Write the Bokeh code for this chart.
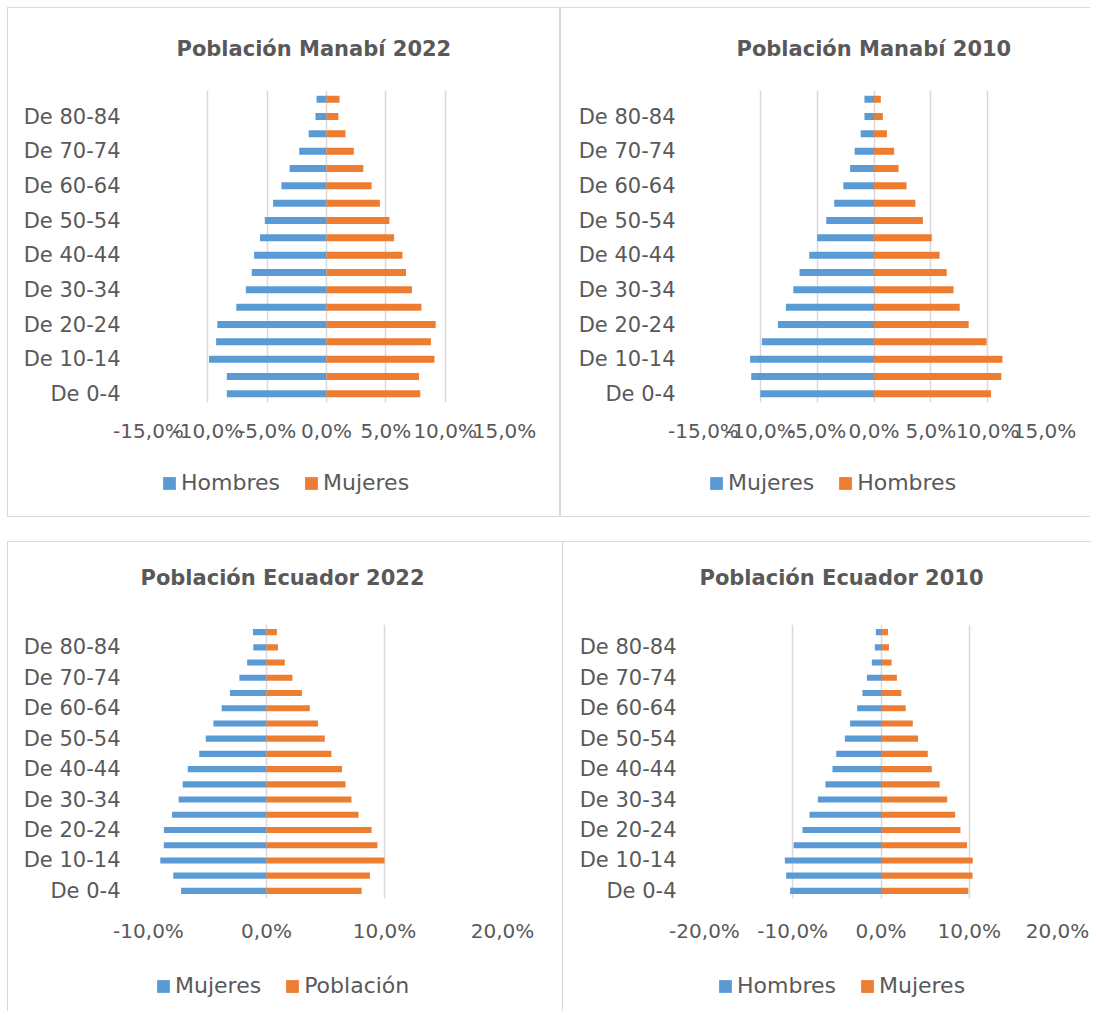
from bokeh.plotting import figure
from bokeh.models import (FactorRange, Range1d, FixedTicker, CustomJSTickFormatter,
                          Legend, LegendItem, Spacer, Title)
from bokeh.layouts import column, row
from bokeh.embed import file_html
from bokeh.resources import INLINE

# ---------------- data (percent of population) ----------------
grupos = ["De 0-4", "De 5-9", "De 10-14", "De 15-19", "De 20-24", "De 25-29",
          "De 30-34", "De 35-39", "De 40-44", "De 45-49", "De 50-54", "De 55-59",
          "De 60-64", "De 65-69", "De 70-74", "De 75-79", "De 80-84", "De 85 y más"]
etiquetas_visibles = ["De 0-4", "De 10-14", "De 20-24", "De 30-34", "De 40-44",
                      "De 50-54", "De 60-64", "De 70-74", "De 80-84"]

manabi22_hombres = [-8.4, -8.4, -9.9, -9.3, -9.2, -7.6, -6.8, -6.3, -6.1, -5.6,
                    -5.2, -4.5, -3.8, -3.1, -2.3, -1.5, -0.93, -0.84]
manabi22_mujeres = [7.9, 7.8, 9.1, 8.8, 9.2, 8.0, 7.2, 6.7, 6.4, 5.7,
                    5.3, 4.5, 3.8, 3.1, 2.3, 1.6, 1.0, 1.1]

manabi10_mujeres = [-10.0, -10.8, -10.9, -9.86, -8.45, -7.75, -7.1, -6.55, -5.7, -5.0,
                    -4.2, -3.5, -2.7, -2.1, -1.7, -1.17, -0.84, -0.84]
manabi10_hombres = [10.3, 11.2, 11.3, 9.9, 8.33, 7.54, 7.0, 6.4, 5.77, 5.08,
                    4.3, 3.64, 2.86, 2.16, 1.77, 1.14, 0.78, 0.6]

ecuador22_mujeres = [-7.24, -7.9, -9.0, -8.7, -8.7, -8.0, -7.45, -7.1, -6.67, -5.7,
                     -5.15, -4.5, -3.8, -3.1, -2.3, -1.64, -1.12, -1.15]
ecuador22_poblacion = [8.06, 8.76, 10.0, 9.4, 8.9, 7.8, 7.2, 6.7, 6.4, 5.5,
                       4.94, 4.36, 3.67, 3.0, 2.2, 1.55, 0.97, 0.88]

ecuador10_hombres = [-10.3, -10.75, -10.9, -9.9, -8.9, -8.1, -7.16, -6.3, -5.5, -5.07,
                     -4.1, -3.5, -2.7, -2.1, -1.6, -1.04, -0.7, -0.58]
ecuador10_mujeres = [9.9, 10.37, 10.4, 9.75, 9.0, 8.4, 7.5, 6.65, 5.76, 5.3,
                     4.2, 3.6, 2.8, 2.3, 1.8, 1.2, 0.9, 0.8]

ticks_15 = [-15, -10, -5, 0, 5, 10, 15]
ticks_10_20 = [-10, 0, 10, 20]
ticks_20 = [-20, -10, 0, 10, 20]

AZUL = "#5B9BD5"
NARANJA = "#ED7D31"
TEXTO = "#595959"
GRIS = "#D9D9D9"
FONT = "DejaVu Sans"


def bordes_css(bordes):
    return {"border-" + b: "1px solid " + GRIS for b in bordes}


def panel(titulo, izq_vals, der_vals, xr, ticks,
          width, height, mbl, fw, mbt, fh, title_offset, title_gap,
          xlab_standoff, bordes):
    p = figure(width=width, height=height, title=None,
               y_range=FactorRange(factors=grupos, range_padding=0),
               x_range=Range1d(*xr),
               output_backend="svg", toolbar_location=None, tools="")
    p.min_border_left = mbl
    p.min_border_right = width - mbl - fw
    p.min_border_top = mbt
    p.min_border_bottom = height - mbt - fh

    p.hbar(y=grupos, left=izq_vals, right=0, height=0.4,
           fill_color=AZUL, line_color=None)
    p.hbar(y=grupos, left=0, right=der_vals, height=0.4,
           fill_color=NARANJA, line_color=None)

    # empty title used as a gap between the frame and the real title
    p.add_layout(Title(text=" ", text_font_size="1px", standoff=title_gap), "above")
    p.add_layout(Title(text=titulo, align="left", offset=title_offset, standoff=0,
                       text_font=FONT, text_font_size="21px", text_font_style="bold",
                       text_color=TEXTO), "above")

    p.xaxis.ticker = FixedTicker(ticks=ticks)
    p.xaxis.formatter = CustomJSTickFormatter(
        code="return tick.toFixed(1).replace('.', ',') + '%';")
    p.xaxis.axis_line_color = None
    p.xaxis.major_tick_line_color = None
    p.xaxis.minor_tick_line_color = None
    p.xaxis.major_label_standoff = xlab_standoff
    p.xaxis.major_label_text_font = FONT
    p.xaxis.major_label_text_font_size = "20px"
    p.xaxis.major_label_text_color = TEXTO

    p.yaxis.formatter = CustomJSTickFormatter(
        args=dict(vis=etiquetas_visibles),
        code="return vis.includes(tick) ? tick : '';")
    p.yaxis.axis_line_color = None
    p.yaxis.major_tick_line_color = None
    p.yaxis.minor_tick_line_color = None
    p.yaxis.major_label_standoff = 22
    p.yaxis.major_label_text_font = FONT
    p.yaxis.major_label_text_font_size = "21px"
    p.yaxis.major_label_text_color = TEXTO

    p.xgrid.grid_line_color = GRIS
    p.xgrid.grid_line_width = 1.5
    p.ygrid.grid_line_color = None
    p.outline_line_color = None
    p.styles = bordes_css(bordes)
    return p


def leyenda(nombre_azul, nombre_naranja, width, height, x, y, bordes):
    q = figure(width=width, height=height, x_range=Range1d(0, 1), y_range=Range1d(0, 1),
               x_axis_location=None, y_axis_location=None,
               output_backend="svg", toolbar_location=None, tools="", min_border=0)
    q.grid.visible = False
    q.outline_line_color = None
    # zero-size placeholder glyphs, only used for the legend swatches
    ra = q.hbar(y=[0], left=[0], right=[0], height=0, fill_color=AZUL, line_color=None)
    rn = q.hbar(y=[0], left=[0], right=[0], height=0, fill_color=NARANJA, line_color=None)
    leg = Legend(items=[LegendItem(label=nombre_azul, renderers=[ra]),
                        LegendItem(label=nombre_naranja, renderers=[rn])],
                 orientation="horizontal", location=(x, y),
                 background_fill_alpha=0, border_line_color=None,
                 padding=0, margin=0, spacing=23,
                 glyph_width=16, glyph_height=16, label_standoff=4,
                 label_text_font=FONT, label_text_font_size="22px",
                 label_text_color=TEXTO, label_height=22)
    q.add_layout(leg)
    q.styles = bordes_css(bordes)
    return q


p1 = panel("Población Manabí 2022", manabi22_hombres, manabi22_mujeres,
           (-15, 15), ticks_15, 553, 452, 140, 356, 82, 312, 28, 27, 10,
           ["top", "left", "right"])
l1 = leyenda("Hombres", "Mujeres", 553, 58, 13, 22, ["left", "right", "bottom"])

p2 = panel("Población Manabí 2010", manabi10_mujeres, manabi10_hombres,
           (-15, 15), ticks_15, 530, 452, 142, 341, 82, 312, 33, 27, 10,
           ["top", "left"])
l2 = leyenda("Mujeres", "Hombres", 530, 58, 5, 22, ["left", "bottom"])

p3 = panel("Población Ecuador 2022", ecuador22_mujeres, ecuador22_poblacion,
           (-10, 20), ticks_10_20, 555, 414, 140, 354, 82, 274, -8, 32, 14,
           ["top", "left"])
l3 = leyenda("Mujeres", "Población", 555, 56, 7, 13, ["left"])

p4 = panel("Población Ecuador 2010", ecuador10_hombres, ecuador10_mujeres,
           (-20, 20), ticks_20, 529, 414, 141, 353, 82, 274, -5, 32, 14,
           ["top", "left"])
l4 = leyenda("Hombres", "Mujeres", 529, 56, 13, 13, ["left"])

layout = column(Spacer(width=10, height=7),
                row(Spacer(width=7, height=10), column(p1, l1), column(p2, l2)),
                Spacer(width=10, height=24),
                row(Spacer(width=7, height=10), column(p3, l3), column(p4, l4)))

open("out.html", "w").write(file_html(layout, INLINE))
